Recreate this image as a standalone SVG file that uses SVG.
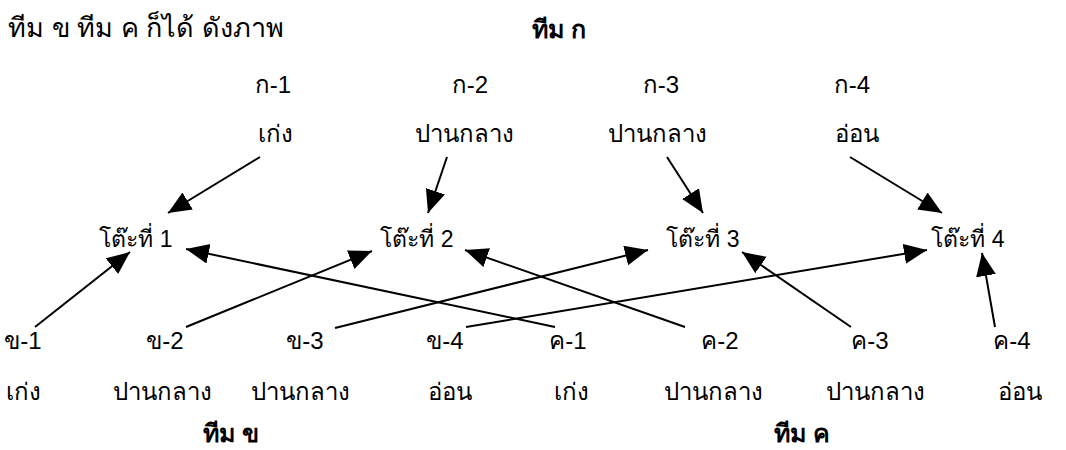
<svg xmlns="http://www.w3.org/2000/svg" width="1066" height="450" viewBox="0 0 1066 450">
<style>
text{font-family:"Liberation Sans","Noto Sans",sans-serif;font-size:24px;fill:#000;text-anchor:middle}
.b{font-weight:bold;font-size:25px}
.l{text-anchor:start;font-size:27px}
.t{font-size:23px}
.c line{stroke:#000;stroke-width:2;marker-end:url(#ah)}
</style>
<defs>
<marker id="ah" markerUnits="userSpaceOnUse" markerWidth="26" markerHeight="22" refX="23" refY="10" orient="auto">
<path d="M0,0 L23,10 L0,20 Z" fill="#000"/>
</marker>
</defs>
<rect width="1066" height="450" fill="#fff"/>
<text class="l" x="8" y="37">ทีม ข ทีม ค ก็ได้ ดังภาพ</text>
<text class="b" x="559" y="38">ทีม ก</text>
<g id="k1"><text x="273" y="93">ก-1</text><text x="275" y="142">เก่ง</text></g>
<g id="k2"><text x="470" y="93">ก-2</text><text x="464" y="142">ปานกลาง</text></g>
<g id="k3"><text x="661" y="93">ก-3</text><text x="657" y="142">ปานกลาง</text></g>
<g id="k4"><text x="852" y="93">ก-4</text><text x="857" y="142">อ่อน</text></g>
<g id="t1"><text class="t" x="136" y="247">โต๊ะที่ 1</text></g>
<g id="t2"><text class="t" x="417" y="247">โต๊ะที่ 2</text></g>
<g id="t3"><text class="t" x="703" y="247">โต๊ะที่ 3</text></g>
<g id="t4"><text class="t" x="968" y="247">โต๊ะที่ 4</text></g>
<g id="b1"><text x="23" y="349">ข-1</text><text x="23" y="400">เก่ง</text></g>
<g id="b2"><text x="165" y="349">ข-2</text><text x="162" y="400">ปานกลาง</text></g>
<g id="b3"><text x="305" y="349">ข-3</text><text x="300" y="400">ปานกลาง</text></g>
<g id="b4"><text x="445" y="349">ข-4</text><text x="450" y="400">อ่อน</text></g>
<g id="c1"><text x="568" y="349">ค-1</text><text x="571" y="400">เก่ง</text></g>
<g id="c2"><text x="720" y="349">ค-2</text><text x="713" y="400">ปานกลาง</text></g>
<g id="c3"><text x="870" y="349">ค-3</text><text x="875" y="400">ปานกลาง</text></g>
<g id="c4"><text x="1012" y="349">ค-4</text><text x="1020" y="400">อ่อน</text></g>
<text class="b" x="231" y="442">ทีม ข</text>
<text class="b" x="802" y="442">ทีม ค</text>
<g class="c" id="connectors">
<line x1="260" y1="157" x2="168" y2="213"/>
<line x1="447" y1="157" x2="428" y2="213"/>
<line x1="667" y1="157" x2="703" y2="213"/>
<line x1="850" y1="157" x2="942" y2="213"/>
<line x1="35" y1="327" x2="130" y2="252"/>
<line x1="186" y1="327" x2="372" y2="251"/>
<line x1="335" y1="328" x2="648" y2="250"/>
<line x1="466" y1="327" x2="927" y2="250"/>
<line x1="555" y1="327" x2="186" y2="249"/>
<line x1="685" y1="327" x2="465" y2="250"/>
<line x1="851" y1="327" x2="742" y2="252"/>
<line x1="995" y1="327" x2="982" y2="253"/>
</g>
</svg>
